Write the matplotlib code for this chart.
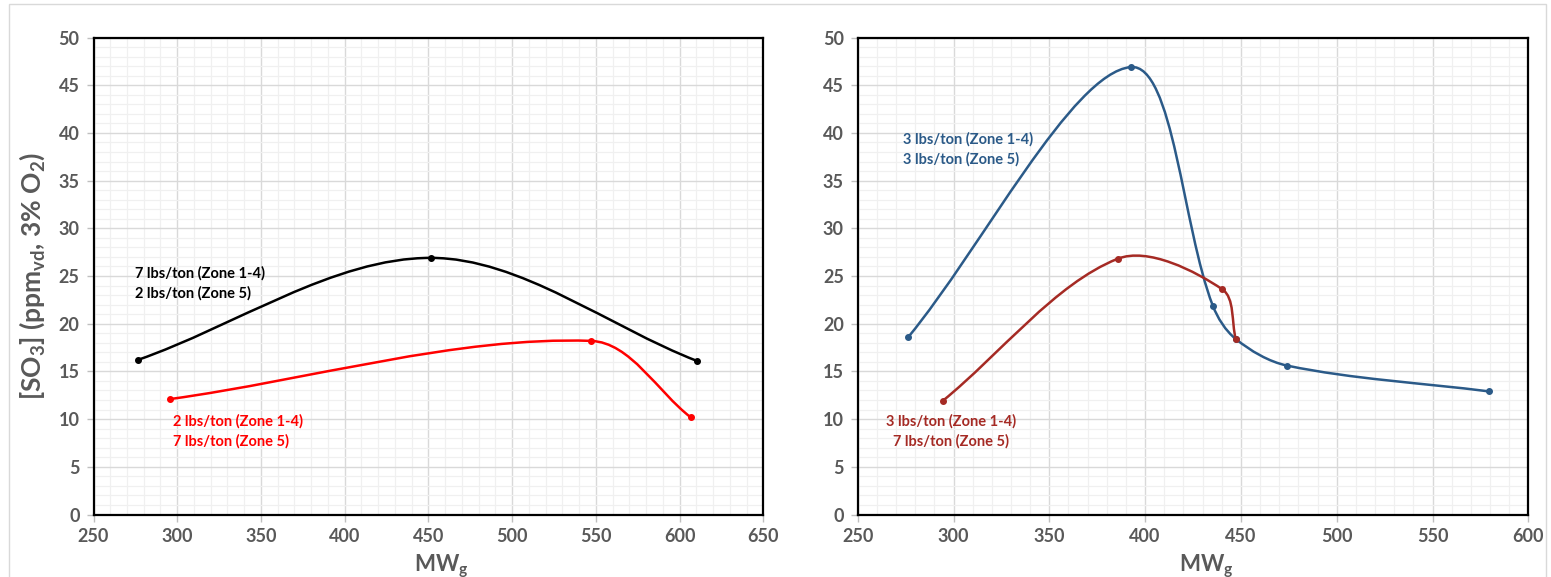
import matplotlib
matplotlib.use("Agg")

import matplotlib.pyplot as plt
from matplotlib.path import Path
from matplotlib.patches import PathPatch, Rectangle
from matplotlib.ticker import MultipleLocator
import numpy as np

plt.rcParams["font.family"] = ["Lato", "DejaVu Sans"]
plt.rcParams["mathtext.default"] = "regular"

# left panel: 7/2 and 2/7 lbs/ton injection splits
left_black_mw = [276.4, 451.6, 610.4]
left_black_so3 = [16.2, 26.9, 16.1]
left_red_mw = [295.7, 547.1, 606.6]
left_red_so3 = [12.1, 18.2, 10.2]

# right panel: 3/3 and 3/7 lbs/ton injection splits
right_blue_mw = [276.4, 392.4, 435.3, 447.3, 474.3, 579.6]
right_blue_so3 = [18.6, 46.9, 21.9, 18.4, 15.6, 12.9]
right_red_mw = [294.3, 385.6, 440.3, 447.3]
right_red_so3 = [11.9, 26.8, 23.6, 18.4]

GRAY = "#595959"
BLACK = "#000000"
RED = "#ff0000"
BLUE = "#2b5a88"
DARKRED = "#a52a24"


def smooth_path(ax, xs, ys):
    # spline through the points as cubic Beziers; tangents are weighted by
    # on-screen segment length so short segments don't overshoot
    pts = np.column_stack([xs, ys]).astype(float)
    scr = ax.transData.transform(pts)
    padded = np.vstack([pts[0], pts, pts[-1]])
    spad = np.vstack([scr[0], scr, scr[-1]])
    dist = np.linalg.norm(np.diff(spad, axis=0), axis=1)
    verts = [pts[0]]
    codes = [Path.MOVETO]
    for i in range(len(pts) - 1):
        p0, p1, p2, p3 = padded[i], padded[i + 1], padded[i + 2], padded[i + 3]
        d01, d12, d23 = dist[i], dist[i + 1], dist[i + 2]
        c1 = p1 + (p2 - p0) * d12 / (d01 + d12) / 3.0
        c2 = p2 - (p3 - p1) * d12 / (d12 + d23) / 3.0
        verts += [c1, c2, p2]
        codes += [Path.CURVE4] * 3
    return Path(verts, codes)


def draw_series(ax, xs, ys, color):
    ax.add_patch(PathPatch(smooth_path(ax, xs, ys), facecolor="none",
                           edgecolor=color, lw=1.8, zorder=3))
    ax.plot(xs, ys, linestyle="none", marker="o", ms=4, color=color, zorder=4)


def style_axes(ax, xmax):
    ax.set_xlim(250, xmax)
    ax.set_ylim(0, 50)
    ax.xaxis.set_major_locator(MultipleLocator(50))
    ax.xaxis.set_minor_locator(MultipleLocator(10))
    ax.yaxis.set_major_locator(MultipleLocator(5))
    ax.yaxis.set_minor_locator(MultipleLocator(1))
    ax.grid(which="major", color="#d9d9d9", lw=1.0, zorder=0)
    ax.grid(which="minor", color="#f0f0f0", lw=0.9, zorder=0)
    ax.set_axisbelow(True)
    for sp in ax.spines.values():
        sp.set_color("black")
        sp.set_linewidth(1.6)
    ax.tick_params(which="major", direction="out", length=5, width=1,
                   color="#bfbfbf", labelcolor=GRAY, labelsize=13, pad=5)
    ax.tick_params(which="minor", length=0)
    for lbl in ax.get_xticklabels() + ax.get_yticklabels():
        lbl.set_fontweight("bold")
    ax.set_xlabel("MW$_g$", color=GRAY, fontsize=16, fontweight="bold")
    ax.xaxis.set_label_coords(0.52, -0.078)


fig = plt.figure(figsize=(15.51, 5.77), dpi=100)
fig.patches.append(Rectangle((0.006, -0.01), 0.991, 1.003,
                             transform=fig.transFigure, fill=False,
                             edgecolor="#d9d9d9", lw=1.0))

ax1 = fig.add_axes([0.0603, 0.1083, 0.4318, 0.8267])
ax2 = fig.add_axes([0.5530, 0.1083, 0.4324, 0.8267])

style_axes(ax1, 650)
style_axes(ax2, 600)

ax1.set_ylabel("[SO$_3$] (ppm$_{vd}$, 3% O$_2$)", color=GRAY, fontsize=19,
               fontweight="bold")
ax1.yaxis.set_label_coords(-0.07, 0.5)

draw_series(ax1, left_black_mw, left_black_so3, BLACK)
draw_series(ax1, left_red_mw, left_red_so3, RED)
draw_series(ax2, right_blue_mw, right_blue_so3, BLUE)
draw_series(ax2, right_red_mw, right_red_so3, DARKRED)

ax1.text(274.5, 26.0, "7 lbs/ton (Zone 1-4)\n2 lbs/ton (Zone 5)", color=BLACK,
         fontsize=10.5, fontweight="bold", va="top", ha="left", linespacing=1.45)
ax1.text(297.5, 10.5, "2 lbs/ton (Zone 1-4)\n7 lbs/ton (Zone 5)", color=RED,
         fontsize=10.5, fontweight="bold", va="top", ha="left", linespacing=1.45)
ax2.text(273.5, 40.1, "3 lbs/ton (Zone 1-4)\n3 lbs/ton (Zone 5)", color=BLUE,
         fontsize=10.5, fontweight="bold", va="top", ha="left", linespacing=1.45)
ax2.text(298.5, 10.5, "3 lbs/ton (Zone 1-4)\n7 lbs/ton (Zone 5)", color=DARKRED,
         fontsize=10.5, fontweight="bold", va="top", ha="center",
         multialignment="center", linespacing=1.45)

fig.savefig("out.png", dpi=100)
